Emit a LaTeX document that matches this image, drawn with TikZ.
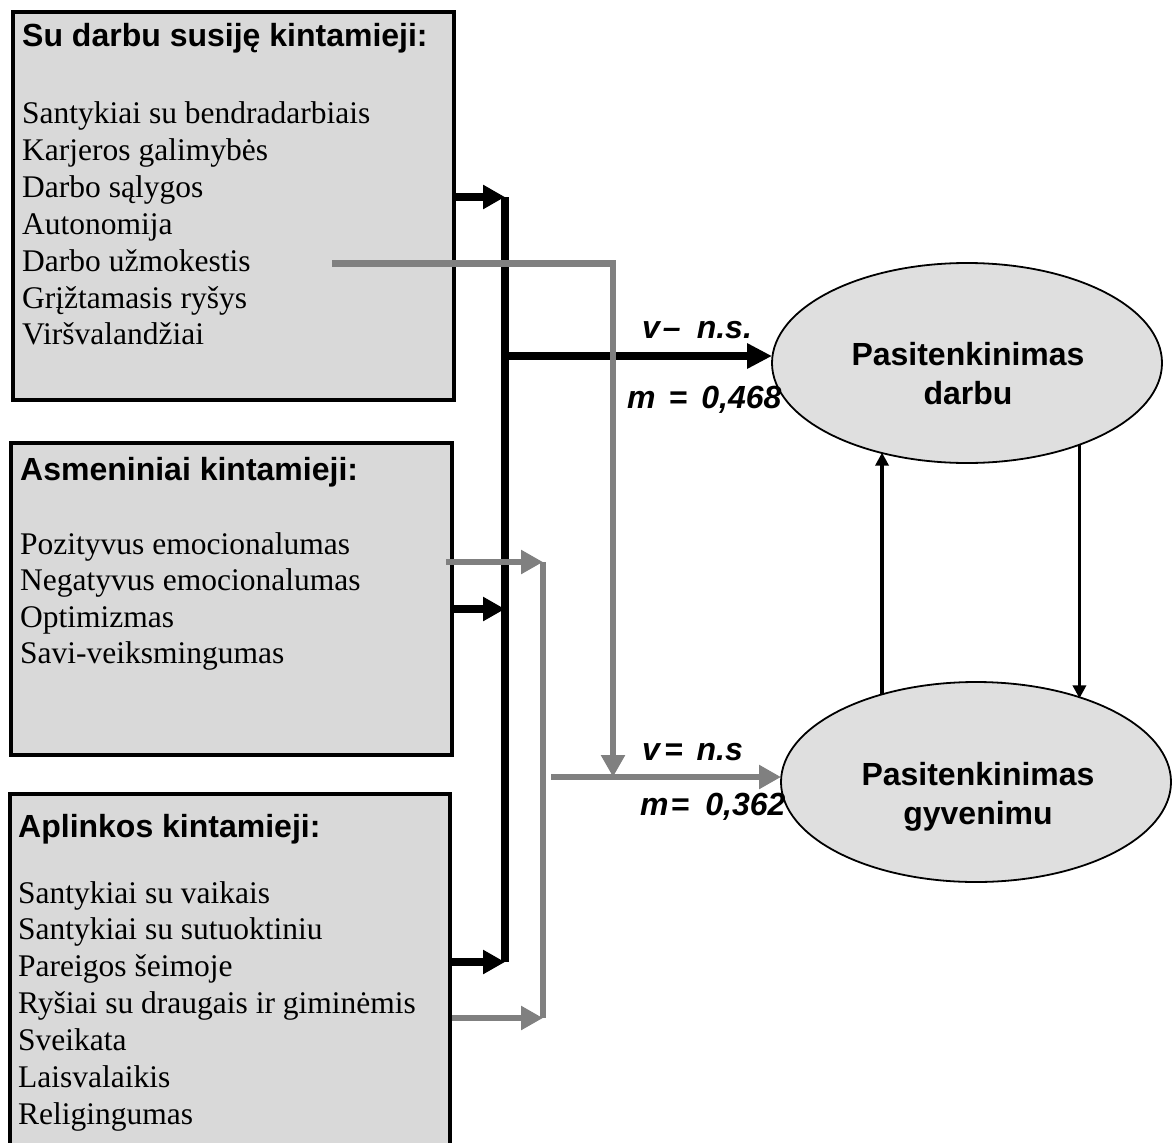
\documentclass[tikz,border=0pt]{standalone}
\usepackage{fontspec}
\setmainfont{Liberation Serif}
\newfontfamily\arialf{Liberation Sans}
\usetikzlibrary{arrows.meta,shapes.geometric,calc}
\definecolor{boxfill}{HTML}{D9D9D9}
\definecolor{ellfill}{HTML}{DFDFDF}
\definecolor{conngray}{HTML}{808080}
\begin{document}
\begin{tikzpicture}[x=1pt,y=-1pt,
 varbox/.style={draw=black, line width=4pt, fill=boxfill, rectangle, inner sep=0pt, outer sep=0pt, anchor=north west},
 boxtitle/.style={font=\arialf\bfseries\fontsize{32}{37}\selectfont, anchor=base west, inner sep=0pt},
 boxitem/.style={font=\fontsize{31.5}{37}\selectfont, anchor=base west, inner sep=0pt},
 outcome/.style={ellipse, draw=black, line width=1.8pt, fill=ellfill, minimum width=390pt, minimum height=200pt, inner sep=0pt, outer sep=0pt},
 outtext/.style={font=\arialf\bfseries\fontsize{32}{39}\selectfont, align=center, inner sep=0pt},
 coef/.style={font=\arialf\bfseries\itshape\fontsize{32}{36}\selectfont, anchor=base west, inner sep=0pt},
 blackconn/.style={line width=8pt, draw=black},
 grayconn/.style={line width=6.5pt, draw=conngray},
 bigtip/.style={-{Triangle[length=22pt,width=23pt]}},
 thinconn/.style={line width=3.5pt, draw=black, -{Triangle[length=13pt,width=13pt]}},
]
\useasboundingbox (0,0) rectangle (1174,1142);

% boxes
\node[varbox, minimum width=441pt, minimum height=387.5pt] (b1) at (13,12) {};
\node[varbox, minimum width=441pt, minimum height=312pt] (b2) at (11,443) {};
\node[varbox, minimum width=440.5pt, minimum height=356pt] (b3) at (9.5,794) {};

% box texts
\node[boxtitle] (b1t) at (22,47) {Su darbu susiję kintamieji:};
\foreach \t [count=\i] in {Santykiai su bendradarbiais, Karjeros galimybės, Darbo sąlygos, Autonomija, Darbo užmokestis, Grįžtamasis ryšys, Viršvalandžiai}
  \node[boxitem] (b1i\i) at (22,{124+36.8*(\i-1)}) {\t};
\node[boxtitle] (b2t) at (20,480) {Asmeniniai kintamieji:};
\foreach \t [count=\i] in {Pozityvus emocionalumas, Negatyvus emocionalumas, Optimizmas, Savi-veiksmingumas}
  \node[boxitem] (b2i\i) at (20,{554+36.6*(\i-1)}) {\t};
\node[boxtitle] (b3t) at (18,837) {Aplinkos kintamieji:};
\foreach \t [count=\i] in {Santykiai su vaikais, Santykiai su sutuoktiniu, Pareigos šeimoje, Ryšiai su draugais ir giminėmis, Sveikata, Laisvalaikis, Religingumas}
  \node[boxitem] (b3i\i) at (18,{903+36.9*(\i-1)}) {\t};

% outcomes
\node[outcome] (e1) at (967,363) {};
\node[outcome] (e2) at (976,782) {};
\node[outtext] (e1t) at (968,374) {Pasitenkinimas\\darbu};
\node[outtext] (e2t) at (978,797) {Pasitenkinimas\\gyvenimu};

% coordinates
\coordinate (bustop) at (505,197);
\coordinate (busopt) at (505,609);
\coordinate (busbot) at (505,962);
\coordinate (busout) at (509,356);
\coordinate (payst) at (332,263.5);
\coordinate (paycorner) at (613,263.5);
\coordinate (paydown) at (613,777);
\coordinate (pozst) at (446,562);
\coordinate (grtop) at (543,562);
\coordinate (rysst) at (452,1018);
\coordinate (grbot) at (543,1018);
\coordinate (grout) at (551,777);

% black connectors
\draw[blackconn] (bustop) -- (busbot);
\draw[blackconn,bigtip] (b1.east |- bustop) -- (bustop);
\draw[blackconn,bigtip] (b2.east |- busopt) -- (busopt);
\draw[blackconn,bigtip] (b3.east |- busbot) -- (busbot);
\draw[blackconn,-{Triangle[length=25pt,width=24pt]}] (busout) -- (busout -| e1.west);

% gray connectors
\draw[grayconn,bigtip] (payst) -- (paycorner) -- (paydown);
\draw[grayconn] (grtop) -- (grbot);
\draw[grayconn,bigtip] (pozst) -- (grtop);
\draw[grayconn,bigtip] (rysst) -- (grbot);
\draw[grayconn,bigtip] (grout) -- (grout -| e2.west);

% between outcomes
\draw[thinconn] (e2.137.2) -- (e2.137.2 |- e1.226.6);
\draw[thinconn] (e1.324.2) -- (e1.324.2 |- e2.38.9);

% coefficients
\node[coef] (c1v) at (642,338) {v\hspace{3pt}–\hspace{16pt}n.s.};
\node[coef] (c1m) at (627,408) {m\hspace{13pt}=\hspace{14pt}0,468};
\node[coef] (c2v) at (642,760) {v\hspace{4pt}=\hspace{14pt}n.s};
\node[coef] (c2m) at (640,815) {m\hspace{2pt}=\hspace{16pt}0,362};
\end{tikzpicture}
\end{document}
